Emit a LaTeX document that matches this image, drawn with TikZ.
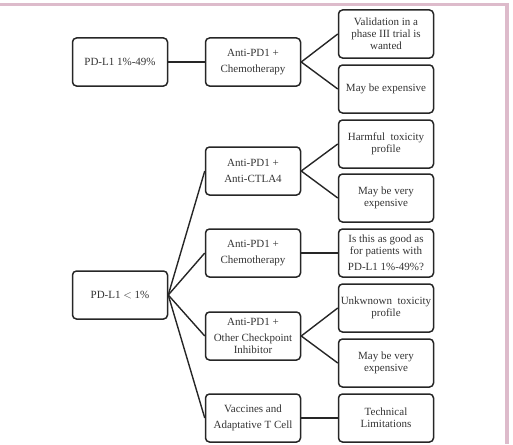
\documentclass[tikz,border=0pt]{standalone}
\usepackage{fontspec}
\setmainfont{Liberation Serif}
\begin{document}
\begin{tikzpicture}[x=1pt,y={(0pt,-1pt)},
  box/.style={draw=black!85,line width=1.5pt,rounded corners=4pt,minimum width=95pt,minimum height=48pt,inner sep=1pt,align=center,text=black!80,font=\fontsize{11}{12}\selectfont},
  link/.style={draw=black!85,line width=1.4pt}]
\useasboundingbox (0,0) rectangle (513,444);
\fill[fill={rgb,255:red,221;green,187;blue,203}] (0,3) rectangle (509,6.5);
\fill[fill={rgb,255:red,221;green,187;blue,203}] (505,3) rectangle (509,444);
% left
\node[box] (a) at (120,62) {PD-L1 1\%-49\%};
\node[box] (b) at (120,295) {PD-L1 $<$ 1\%};
% middle
\node[box] (m1) at (253,62) {Anti-PD1 +\\[4pt]Chemotherapy};
\node[box] (m2) at (253,171) {Anti-PD1 +\\[4pt]Anti-CTLA4};
\node[box] (m3) at (253,253) {Anti-PD1 +\\[4pt]Chemotherapy};
\node[box] (m4) at (253,336) {Anti-PD1 +\\[4pt]Other Checkpoint\\Inhibitor};
\node[box] (m5) at (253,418) {Vaccines and\\[4pt]Adaptative T Cell};
% right
\node[box] (r1) at (386,34) {Validation in a\\phase III trial is\\wanted};
\node[box] (r2) at (386,89) {May be expensive};
\node[box] (r3) at (386,144) {Harmful\ \ toxicity\\profile};
\node[box] (r4) at (386,198) {May be very\\expensive};
\node[box] (r5) at (386,253) {Is this as good as\\for patients with\\[4pt]PD-L1 1\%-49\%?};
\node[box] (r6) at (386,308) {Unkwnown\ \ toxicity\\profile};
\node[box] (r7) at (386,363) {May be very\\expensive};
\node[box] (r8) at (386,418) {Technical\\Limitations};
% links
\draw[link] (a.east) -- (m1.west);
\draw[link] (m1.east) -- (r1.west);
\draw[link] (m1.east) -- (r2.west);
\draw[link] (b.east) -- (m2.west);
\draw[link] (b.east) -- (m3.west);
\draw[link] (b.east) -- (m4.west);
\draw[link] (b.east) -- (m5.west);
\draw[link] (m2.east) -- (r3.west);
\draw[link] (m2.east) -- (r4.west);
\draw[link] (m3.east) -- (r5.west);
\draw[link] (m4.east) -- (r6.west);
\draw[link] (m4.east) -- (r7.west);
\draw[link] (m5.east) -- (r8.west);
\end{tikzpicture}
\end{document}
